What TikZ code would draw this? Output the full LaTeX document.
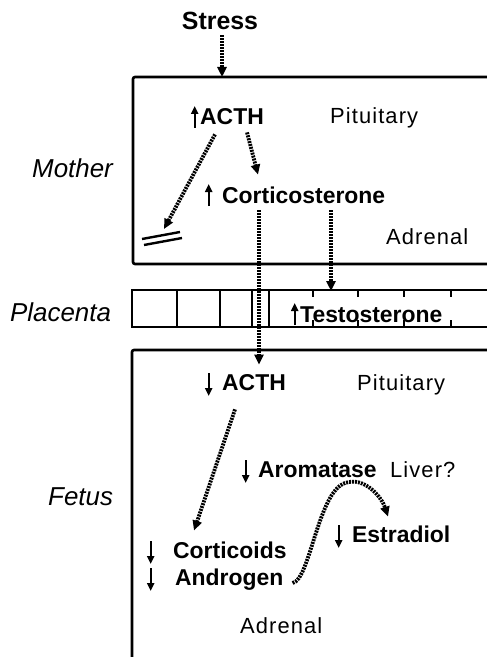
\documentclass[tikz,border=0pt]{standalone}
\usepackage{fontspec}
\setmainfont{Liberation Sans}
\usetikzlibrary{arrows.meta}
\newcommand\arrup{\tikz[x=1bp,y=1bp,baseline=0bp]\draw[line width=2.4bp,-{Triangle[width=7bp,length=8bp]}] (0,-3) -- (0,19);}
\newcommand\arrdn{\tikz[x=1bp,y=1bp,baseline=0bp]\draw[line width=2.4bp,-{Triangle[width=7bp,length=8bp]}] (0,17) -- (0,-6);}
\newcommand\ua[1]{\llap{\arrup\hspace{#1bp}}}
\newcommand\da[1]{\llap{\arrdn\hspace{#1bp}}}
\begin{document}
\begin{tikzpicture}[x=1bp,y=-1bp,
  box/.style={line width=2.6bp, rounded corners=2bp},
  plac/.style={line width=2bp},
  reg/.style={inner sep=0, anchor=base west, font=\fontsize{22}{24}\selectfont\addfontfeatures{LetterSpace=5}},
  bld/.style={inner sep=0, anchor=base west, font=\fontsize{23}{26}\selectfont\bfseries},
  side/.style={inner sep=0, anchor=base west, font=\fontsize{26}{28}\selectfont\itshape},
  flow/.style={line width=3.8bp, dash pattern=on 2bp off 1bp, -{Triangle[width=9bp,length=10bp]}},
  blockline/.style={line width=2.4bp}
]
\useasboundingbox (0,0) rectangle (487,657);
% boxes
\draw[box] (490,77) -- (133,77) -- (133,264) -- (490,264);
\draw[plac] (490,290) -- (132,290) -- (132,327) -- (490,327);
\foreach \x in {177,220,252,269} \draw[plac] (\x,290) -- (\x,327);
\foreach \x in {313,358,404,451} {\draw[plac] (\x,290) -- (\x,297); \draw[plac] (\x,320) -- (\x,327);}
\draw[box] (490,350) -- (132,350) -- (132,660);
% labels
\node[bld, anchor=base, font=\fontsize{25}{28}\selectfont\bfseries] (stress) at (220,30) {Stress};
\node[bld] (actm) at (200,125) {\ua{2}ACTH};
\node[reg] (pitm) at (330,124) {Pituitary};
\node[bld] (cort) at (222,203) {\ua{10}Corticosterone};
\node[reg] (adrm) at (386,244) {Adrenal};
\node[side] (mother) at (32,177) {Mother};
\node[side] (placenta) at (10,321) {Placenta};
\node[side] (fetus) at (48,505) {Fetus};
\node[bld] (testo) at (300,322) {\ua{2}Testosterone};
\node[bld] (actf) at (222,390) {\da{10}ACTH};
\node[reg] (pitf) at (357,390) {Pituitary};
\node[bld] (arom) at (258,477) {\da{9}Aromatase};
\node[reg] (liver) at (390,477) {Liver?};
\node[bld] (estr) at (352,542) {\da{10}Estradiol};
\node[bld] (corti) at (173,558) {\da{19}Corticoids};
\node[bld] (andr) at (175,585) {\da{21}Androgen};
\node[reg] (adrf) at (240,633) {Adrenal};
% block symbol
\coordinate (blk) at (164,229);
\draw[blockline] (142,239) -- (180,232);
\draw[blockline] (144,245) -- (182,238);
\coordinate (mtop) at (222,77);
\coordinate (plt) at (331,291);
% connectors
\draw[flow] ([shift={(2,5)}]stress.south) -- (mtop);
\draw[flow] ([shift={(47,3)}]actm.south west) -- ([shift={(36,-8)}]cort.north west);
\draw[flow] ([shift={(15,5)}]actm.south west) -- (blk);
\draw[flow] ([shift={(37,3)}]cort.south west) -- ([shift={(37,-7)}]actf.north west);
\draw[flow] ([shift={(109,3)}]cort.south west) -- (plt);
\draw[flow] ([shift={(13,12)}]actf.south west) -- ([shift={(21,-9)}]corti.north west);
\draw[flow] ([shift={(9,-2)}]andr.base east) .. controls (310,580) and (318,492) .. (345,483)
  .. controls (365,476) and (382,498) .. ([shift={(36,-7)}]estr.north west);
\end{tikzpicture}
\end{document}
